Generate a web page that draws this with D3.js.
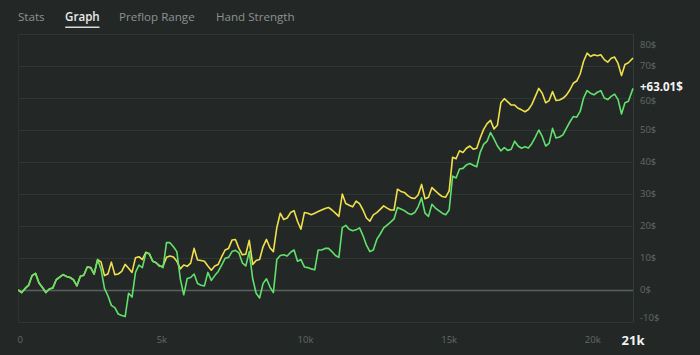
<!DOCTYPE html>
<html><head><meta charset="utf-8">
<script src="https://cdn.jsdelivr.net/npm/d3@7"></script>
<style>
html,body{margin:0;padding:0;background:#232827;}
svg{display:block;font-family:"Segoe UI","Open Sans","Noto Sans",sans-serif;}
</style></head>
<body><svg id="c" width="700" height="355"></svg>
<script>
// ---- data ----
const tabs = ["Stats", "Graph", "Preflop Range", "Hand Strength"];
const activeTab = "Graph";
const totalHands = 21400;
const hands = d3.range(0, 21241, 120).concat([totalHands]);
const yTicks = [-10, 0, 10, 20, 30, 40, 50, 60, 70, 80];
const xTicks = [0, 5000, 10000, 15000, 20000];
const xTickLabels = ["0", "5k", "10k", "15k", "20k"];
const endLabel = "21k";
const netLabel = "+63.01$";
const shared = [0,-0.8,0.5,1.5,4.5,5.2,2.2,0.8,-0.8,0.3,0.6,3.2,4.0,4.8,4.2,3.9,3.2,1.3,4.3,4.6,7.2,7.0,5.0,9.5];
const yellowTail = [8.8,4.5,5.0,8.7,4.8,5.0,5.8,8.0,6.8,5.5,10.1,10.4,9.5,11.8,11.2,9.0,8.5,7.4,7.5,10.2,
 10.6,10.3,9.0,6.6,7.8,7.4,8.4,13.0,9.4,9.2,9.0,7.5,6.2,7.5,8.0,10.4,12.5,13.0,15.6,15.8,
 13.0,11.0,11.2,15.5,8.0,9.2,9.5,13.5,15.8,13.2,12.0,19.5,24.0,22.0,22.5,24.2,24.8,21.5,19.0,24.2,
 24.0,23.5,24.0,24.5,25.0,25.5,25.8,25.0,24.0,23.0,30.0,27.0,26.5,26.0,27.8,27.0,25.0,22.5,21.5,23.5,
 24.2,25.2,26.3,25.6,25.0,25.0,31.5,30.8,30.5,29.5,28.8,28.6,29.7,33.0,28.5,29.0,32.0,31.0,30.0,29.2,
 29.0,31.0,41.5,41.0,43.5,43.0,44.3,45.0,44.0,44.3,47.5,50.2,52.0,53.0,50.3,51.5,58.5,59.8,58.8,57.8,
 57.8,56.8,56.3,55.7,56.4,58.0,60.5,63.0,61.5,58.5,59.2,62.0,59.2,59.4,59.9,60.9,62.5,64.6,65.3,67.5,
 71.5,74.0,73.0,73.5,73.2,73.5,72.0,71.2,72.4,72.8,70.8,67.0,70.5,71.0,72.5];
const greenTail = [6.5,0.5,-1.8,-4.8,-5.5,-7.5,-8.0,-8.3,-1.0,-2.2,5.5,7.8,7.0,11.5,11.5,9.0,8.5,7.6,7.0,14.8,
 14.8,13.5,12.0,3.5,-1.5,3.6,3.9,5.0,2.0,1.5,1.3,5.5,3.0,4.5,5.8,7.8,9.9,10.2,12.0,12.4,
 11.6,8.5,7.5,12.0,3.5,-1.0,-2.5,2.0,3.5,1.0,-0.8,9.5,10.8,11.0,10.6,11.8,12.5,9.0,9.5,7.2,
 7.0,6.6,6.3,12.5,12.5,13.0,13.0,12.0,10.8,10.2,19.5,20.2,19.0,18.5,18.8,19.4,17.0,14.0,12.0,12.5,
 15.8,17.5,19.4,20.3,21.2,22.2,25.8,25.3,24.8,24.0,23.6,24.2,26.0,28.8,24.0,23.0,26.8,25.6,24.8,24.0,
 23.5,25.0,35.6,35.0,37.8,38.0,39.1,39.5,39.0,38.5,43.0,45.5,46.5,49.2,47.2,45.0,43.5,44.5,43.6,44.0,
 46.5,45.0,44.3,44.8,44.4,45.8,47.8,50.0,48.0,45.0,45.8,50.5,47.5,47.8,48.5,50.5,52.5,54.2,54.0,55.8,
 60.0,62.3,61.5,61.0,61.8,62.3,60.0,59.5,60.5,61.2,59.5,55.0,58.5,59.0,63.01];
const yellowSeries = shared.concat(yellowTail);
const greenSeries = shared.concat(greenTail);

// ---- drawing ----
const svg = d3.select("#c");
const x = d3.scaleLinear().domain([0, totalHands]).range([18.3, 633]);
const y = d3.scaleLinear().domain([-10, 80]).range([322, 34]);
const left = 18.5, right = 633.5;

// tabs
const tabPos = [18, 65, 119, 216];
const tg = svg.append("g");
tabs.forEach((t, i) => {
  const el = tg.append("text").attr("x", tabPos[i]).attr("y", 21)
    .attr("font-size", 11.6).attr("fill", t === activeTab ? "#e9eaea" : "#8d9192")
    .attr("font-weight", t === activeTab ? 600 : 400).text(t);
  if (t === activeTab) {
    const w = el.node().getComputedTextLength();
    tg.append("rect").attr("x", tabPos[i]).attr("y", 26.5).attr("width", w).attr("height", 1.6)
      .attr("rx", 0.8).attr("fill", "#d8dada");
  }
});

// grid
const grid = svg.append("g");
yTicks.forEach(v => {
  grid.append("line").attr("x1", left).attr("x2", right)
    .attr("y1", Math.round(y(v)) + 0.5).attr("y2", Math.round(y(v)) + 0.5)
    .attr("stroke", v === 0 ? "#5a5e5f" : "#2f3533").attr("stroke-width", v === 0 ? 1.5 : 1);
});
grid.append("line").attr("x1", left).attr("x2", left).attr("y1", y(80)).attr("y2", y(-10) + 0.5)
  .attr("stroke", "#2c3230");
grid.append("line").attr("x1", right).attr("x2", right).attr("y1", y(80)).attr("y2", y(-10) + 0.5)
  .attr("stroke", "#353b39");

// end label position, and y labels nudged away from it
const endY = y(greenSeries[greenSeries.length - 1]) - 1.5;
function labelY(v) {
  let p = Math.min(Math.max(y(v), 45), 318);
  if (Math.abs(p - endY) < 13.5) p = p > endY ? endY + 13.5 : endY - 13.5;
  return p;
}
svg.append("g").selectAll("text").data(yTicks).join("text")
  .attr("x", 640).attr("y", d => labelY(d))
  .attr("dy", "0.35em").attr("font-size", 9.5).attr("fill", "#63686a")
  .text(d => d + "$");

// x labels
svg.append("g").selectAll("text").data(xTicks).join("text")
  .attr("x", d => x(d) + (d === 0 ? 2 : 0)).attr("y", 340).attr("dy", "0.35em").attr("text-anchor", "middle")
  .attr("font-size", 9.5).attr("fill", "#63686a")
  .text((d, i) => xTickLabels[i]);
svg.append("text").attr("x", x(totalHands)).attr("y", 340).attr("dy", "0.35em")
  .attr("text-anchor", "middle").attr("font-size", 13).attr("font-weight", 700)
  .attr("fill", "#f2f2f2").text(endLabel);

// lines
const line = d3.line().x((d, i) => x(hands[i])).y(d => y(d));
svg.append("path").datum(yellowSeries).attr("d", line).attr("fill", "none")
  .attr("stroke", "#efe04c").attr("stroke-width", 1.6).attr("stroke-linejoin", "round");
svg.append("path").datum(greenSeries).attr("d", line).attr("fill", "none")
  .attr("stroke", "#62e06c").attr("stroke-width", 1.6).attr("stroke-linejoin", "round");

// end label
svg.append("text").attr("x", 640).attr("y", endY)
  .attr("dy", "0.35em").attr("font-size", 11.5).attr("font-weight", 700)
  .attr("fill", "#f4f4f4").text(netLabel);
</script></body></html>
